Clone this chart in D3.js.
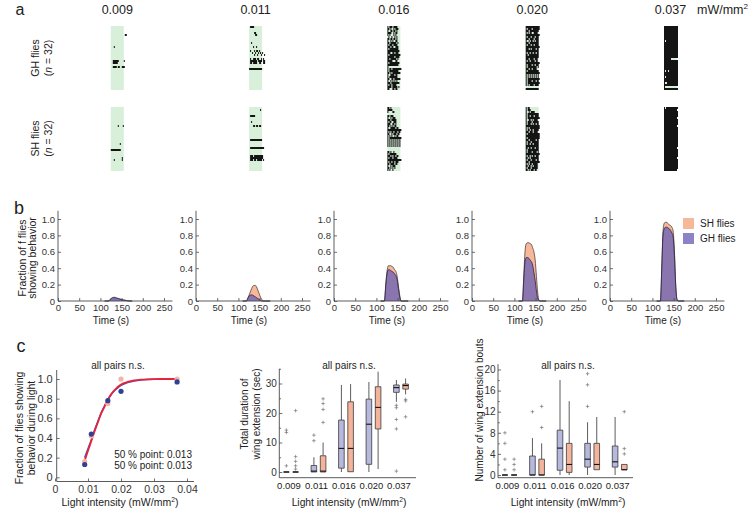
<!DOCTYPE html>
<html><head><meta charset="utf-8">
<script src="https://cdn.jsdelivr.net/npm/d3@7"></script>
<style>
body{margin:0;background:#fff}
svg{display:block;font-family:"Liberation Sans",Arial,Helvetica,sans-serif}
</style>
</head><body>
<svg id="c" width="750" height="508"></svg>
<script>
// ---------------- DATA ----------------
const intensityLabels = ["0.009","0.011","0.016","0.020","0.037"];
const intensityValues = [0.009,0.011,0.016,0.020,0.037];

// Panel a rasters: one string per fly row (32 rows), '#' = wing extension in a time bin
const r009GH = {4:"..............##",10:"...#",17:"..######.....#",18:"..#####",20:"..####.##..###"};
const r009SH = {9:".......#....#",18:".........#",21:"##########",25:"...........#",26:"...#.......#"};
const r011GH = {0:".####",3:".....##",4:"......##",8:"..#",10:"....#..#",12:".#...#.##.#",13:"...#..#..#.#.#",14:".....#..#...#..#",16:".#..###.##..#.#",17:".#######.####.##",18:".##.####..##..##",21:"#############"};
const r011SH = {1:"...........#",4:".#####",7:"..#",9:"....##.##.##",16:".############",20:".##############",24:".###.#########",25:".#############",26:".###.##.#####.#"};
const r016GH = ["#.###.####....","##.#..#.###...","#..##.##.#....","####..#.##....","#.#...#.#.....",".#..#..#.#....","##.##.##.#....","#..#.#..##....","##.######.#...","#.###.####....","###.##..###...","#.#########...","############..","###..##.###...","#.###########.","#######.####..","##.######.#...","#####...##....","#.##########..","###########...","#.............","#.##.#########","#.#########...","##.#.########.","#..####.##....","#.########....","##..##.######.","#..#.#.#.#....","###.########..","#.##.####.....","####.#####.#..","##...##.##...."];
const r016SH = ["##.#..........","#####.........","#....##.......","..............","##.###........","#..#.###......","###.#####.....","#.##..###.....","###..##.#.....","##.#.#.##.....","#..#####.##...","##############","#.#.##.###.##.","##..#.###.##..","#.#.#..#.##...","#.############","#.#.#.#.#.#.#.","#.#.#.#.#.#.#.","#.#.#.#.#.#.#.","#.#.#.#.#.#.#.","..............","..............","##.#..#.......","#.#######.....","###.#.##.##...","#.###.####....","##############","#.##.##.###...","##.####.##....","#..#.###......","##.#.#.#......","#.#..#........"];
const r020GH = ["##############","#.####.#######","###.#########.","#.#.##..####..","##############","#.###.###.###.","###.####.####.","#..#.##.#.###.","###.#########.","#.###.##.####.","##############","###.#.####.##.","#############.","#.##.##.##.##.","##.##########.","#############.","###.####.###..","#.##.####.##..","##############","#.####.##.###.","#.#########.#.","###.##.####...","#.###########.","##############","#.#.#.#.#.#.#.","#.#.#.#.#.#.#.","#.############","#.####.###.##.","#.############","#.#.####.####.","..............","#############."];
const r020SH = ["#.##..........","#.###.........","#..#.####.....","#.###########.","#.##.###.####.","#.############","#..##.#.####..","#.####.######.","#.###.#.##.##.","##############","#.#.##########","#.##.##.#####.","###.###.####..","#.############","##############","#.############","###.######.##.","#.###.#######.","#.##.##.#####.","#############.","##.##.###.###.","#.###########.","#.####.####.#.","##############","#.##.#.##.###.","##.#.########.","#.###.####.##.","###.##########","#.#.##.#####..","##.##.#.####..","#.###.######..","##.#.###.##..."];
const r037GH = ["##############","##############","##############","##############","##############","##############","##############","#.############","##############","##############","##############","##############","##############","##############","##############","##############","#######.......","##############","##############","##############","##############","##############","#.##.#########","##############","##############","#.############","##############","##############","#..###########","##############","#.............","##############"];
const r037SH = ["#.############","#############.","##############","##############","##############","#############.","##############","##############","##############","#############.","##############","##############","##############","##############","##############","##############","##############","##############","##############","##############","#############.","##############","##############","##############","##############","#############.","##############","##############","##############","##############","##############","#############."];
const rasterGH = [r009GH, r011GH, r016GH, r020GH, r037GH];
const rasterSH = [r009SH, r011SH, r016SH, r020SH, r037SH];

// Panel b: fraction of flies showing behaviour over time
const bTime = [110,115,119,122,125,128,131,134,137,140,143,146,149,152,155,158,161,164,170,175];
const bSH = [
  [0,0,0,0.01,0.02,0.03,0.035,0.035,0.03,0.03,0.025,0.02,0.018,0.015,0.01,0.008,0.005,0.003,0,0],
  [0,0,0,0.03,0.07,0.11,0.15,0.18,0.19,0.19,0.17,0.13,0.09,0.05,0.02,0,0,0,0,0],
  [0,0,0,0.2,0.36,0.43,0.43,0.43,0.42,0.41,0.38,0.36,0.3,0.18,0.07,0,0,0,0,0],
  [0,0,0,0.3,0.6,0.7,0.71,0.71,0.7,0.69,0.65,0.6,0.5,0.3,0.1,0.01,0,0,0,0],
  [0,0,0,0.4,0.85,0.95,0.96,0.96,0.94,0.93,0.92,0.9,0.85,0.6,0.2,0.02,0,0,0,0]
];
const bGH = [
  [0,0,0,0.015,0.03,0.04,0.045,0.045,0.04,0.035,0.03,0.025,0.02,0.015,0.012,0.01,0.006,0.003,0,0],
  [0,0,0,0.03,0.06,0.07,0.075,0.07,0.06,0.05,0.04,0.03,0.02,0.01,0,0,0,0,0,0],
  [0,0,0,0.18,0.33,0.38,0.38,0.37,0.36,0.35,0.33,0.31,0.26,0.15,0.05,0,0,0,0,0],
  [0,0,0,0.25,0.48,0.53,0.53,0.52,0.5,0.48,0.44,0.35,0.25,0.12,0.03,0.01,0,0,0,0],
  [0,0,0,0.38,0.8,0.88,0.9,0.9,0.89,0.88,0.86,0.83,0.78,0.55,0.18,0.02,0,0,0,0]
];
const bTicksX = [0,50,100,150,200,250];
const bTicksY = [0,0.2,0.4,0.6,0.8,1.0];

// Panel c left: fraction responding + fitted curves
const fracGH = [0.13,0.44,0.78,0.875,0.97];
const fracSH = [0.16,0.42,0.75,1.0,1.0];
const fitX  = [0.009,0.010,0.011,0.012,0.013,0.014,0.015,0.016,0.017,0.018,0.019,0.020,0.022,0.024,0.026,0.028,0.030,0.033,0.037];
const fitSH = [0.17,0.27,0.37,0.47,0.56,0.65,0.72,0.79,0.845,0.885,0.92,0.945,0.97,0.985,0.993,0.997,0.999,1.0,1.0];
const fitGH = [0.2,0.29,0.38,0.48,0.57,0.655,0.725,0.785,0.84,0.88,0.91,0.935,0.965,0.98,0.99,0.995,0.998,0.999,1.0];

// Panel c middle: total duration (sec) [min, q1, median, q3, max]
const durGH = [[0,0,0,0,0],[0,0,0.3,2.2,5.0],[0,1.3,8.0,17.6,29.5],[0,2.6,16.2,24.7,30.5],[23.8,27.0,28.6,29.5,31.2]];
const durGHOut = [[14.2,13.4,2.1],[12.5,10.6],[],[],[22.6,21.8,17.8,14.6,0.3]];
const durSH = [[0,0,0,0,0],[0,0,0.3,5.5,10],[0,0.1,8.0,23.8,29.8],[1.0,14.6,21.9,28.9,34],[26.3,28.1,29.3,29.8,31.7]];
const durSHOut = [[20.8,5.2,3.6,2.1,1.0],[24.8,23.2,21.2,16.8],[],[],[24.6,24.1,18.7]];

// Panel c right: number of bouts
const boutGH = [[0,0,0,0,0],[0,0,0,3.6,7],[0,0.9,5.1,8.5,18],[0,1.5,3.0,6.0,10],[0,1.5,2.5,5.5,11]];
const boutGHOut = [[8,6,3,1],[12],[],[19.2,17.1,13],[]];
const boutSH = [[0,0,0,0,0],[0,0,0,3,6],[0,0.5,2,6,14],[1,1,2,6,11],[1,1,1,2,2]];
const boutSHOut = [[3,2,1],[13,9],[],[],[12,5,4]];

// ---------------- DRAW ----------------
const svg = d3.select("#c");
const AX = "#4a4a4a";
const SHC = "#f7b89a", GHC = "rgb(110,100,180)";
const GHBOX = "#b7b8de", SHBOX = "#f4b49b";

function text(g, x, y, s, size, anchor="middle", rot=0) {
  const t = g.append("text").attr("font-size", size).attr("text-anchor", anchor).attr("fill","#222");
  if (rot) t.attr("transform", `translate(${x},${y}) rotate(${rot})`);
  else t.attr("x", x).attr("y", y);
  t.text(s);
  return t;
}
function unitLabel(g, x, y, size, anchor="middle", prefix="Light intensity (") {
  const t = g.append("text").attr("x", x).attr("y", y).attr("font-size", size).attr("text-anchor", anchor).attr("fill","#222");
  t.append("tspan").text(prefix + "mW/mm");
  t.append("tspan").attr("font-size", size*0.65).attr("dy", -size*0.38).text("2");
  if (prefix) t.append("tspan").attr("dy", size*0.38).text(")");
  return t;
}

// panel letters
text(svg, 20, 14.5, "a", 16);
text(svg, 19, 214, "b", 18);
text(svg, 21, 352, "c", 18);

// ---- Panel a ----
const colX = d3.scalePoint().domain(intensityLabels).range([117.3, 670.5]);
const binX = d3.scaleLinear().domain([0, 13]).range([-6.5, 6.5]);
const rowGH = d3.scaleLinear().domain([0, 32]).range([26, 90]);
const rowSH = d3.scaleLinear().domain([0, 32]).range([107, 171]);

intensityLabels.forEach(l => text(svg, colX(l), 13.5, l, 12.5));
unitLabel(svg, 697, 13.5, 12.5, "start", "");

function drawRaster(rows, rowScale, col) {
  const cx = colX(col);
  const g = svg.append("g");
  g.append("rect").attr("x", cx + binX(0)).attr("y", rowScale(0))
    .attr("width", binX(13) - binX(0)).attr("height", rowScale(32) - rowScale(0))
    .attr("fill", "#d8f0da");
  Object.entries(rows).forEach(([r, s]) => {
    r = +r;
    let i = 0;
    while (i < s.length) {
      if (s[i] === "#") {
        let j = i;
        while (j < s.length && s[j] === "#") j++;
        g.append("rect").attr("x", cx + binX(i)).attr("y", rowScale(r))
          .attr("width", binX(j) - binX(i)).attr("height", rowScale(r + 1) - rowScale(r))
          .attr("fill", "#141414");
        i = j;
      } else i++;
    }
  });
}
intensityLabels.forEach((l, i) => {
  drawRaster(rasterGH[i], rowGH, l);
  drawRaster(rasterSH[i], rowSH, l);
});
function rowLabel(cy, name) {
  text(svg, 38.5, cy, name, 10.5, "middle", -90);
  const t = svg.append("text").attr("font-size", 10.5).attr("text-anchor", "middle").attr("fill","#222")
    .attr("transform", `translate(52,${cy}) rotate(-90)`);
  t.append("tspan").text("(");
  t.append("tspan").attr("font-style", "italic").text("n");
  t.append("tspan").text(" = 32)");
}
rowLabel(58, "GH flies");
rowLabel(138.5, "SH flies");

// ---- Panel b ----
const subOrigin = d3.scaleLinear().domain([0, 4]).range([58, 610]);
const by = d3.scaleLinear().domain([0, 1]).range([301, 219]);
function styleAxis(g) {
  g.selectAll("path.domain").remove();
  g.selectAll("line").attr("stroke", AX).attr("stroke-width", 0.8);
  g.selectAll("text").attr("fill", "#333");
}
intensityLabels.forEach((l, i) => {
  const x0 = subOrigin(i);
  const bx = d3.scaleLinear().domain([0, 250]).range([x0, x0 + 106]);
  const g = svg.append("g");
  const area = d3.area().x((d, k) => bx(bTime[k])).y0(by(0)).y1(d => by(d)).curve(d3.curveMonotoneX);
  const line = d3.line().x((d, k) => bx(bTime[k])).y(d => by(d)).curve(d3.curveMonotoneX);
  g.append("path").attr("d", area(bSH[i])).attr("fill", SHC);
  g.append("path").attr("d", line(bSH[i])).attr("fill", "none").attr("stroke", "#3a2a2a").attr("stroke-width", 0.7);
  g.append("path").attr("d", area(bGH[i])).attr("fill", GHC).attr("fill-opacity", 0.8);
  g.append("path").attr("d", line(bGH[i])).attr("fill", "none").attr("stroke", "#2a2040").attr("stroke-width", 0.8);
  g.append("line").attr("x1", bx(0)).attr("x2", bx(270)).attr("y1", by(0)).attr("y2", by(0)).attr("stroke", AX).attr("stroke-width", 0.9);
  g.append("line").attr("x1", bx(0)).attr("x2", bx(0)).attr("y1", by(0)).attr("y2", by(1.1)).attr("stroke", AX).attr("stroke-width", 0.9);
  const xa = g.append("g").attr("transform", `translate(0,${by(0)})`)
    .call(d3.axisBottom(bx).tickValues(bTicksX).tickSizeInner(-3).tickSizeOuter(0).tickPadding(3));
  xa.selectAll("text").attr("font-size", 9.5).attr("font-family", null);
  styleAxis(xa);
  const ya = g.append("g").attr("transform", `translate(${bx(0)},0)`)
    .call(d3.axisLeft(by).tickValues(bTicksY).tickFormat(d => d === 0 ? "0" : d3.format(".1f")(d)).tickSizeInner(-3).tickSizeOuter(0).tickPadding(3));
  ya.selectAll("text").attr("font-size", 9.5).attr("font-family", null);
  styleAxis(ya);
  text(g, bx(125), 324, "Time (s)", 10);
});
text(svg, 25.5, 258, "Fraction of f flies", 10.5, "middle", -90);
text(svg, 36, 258, "showing behavior", 10.5, "middle", -90);
// legend
svg.append("rect").attr("x", 683).attr("y", 218).attr("width", 11).attr("height", 11).attr("fill", SHC);
svg.append("rect").attr("x", 683).attr("y", 233).attr("width", 11).attr("height", 11).attr("fill", GHC).attr("fill-opacity", 0.8);
text(svg, 700, 227, "SH flies", 10, "start");
text(svg, 700, 242, "GH flies", 10, "start");

// ---- Panel c left ----
{
  const g = svg.append("g");
  const x = d3.scaleLinear().domain([0, 0.04]).range([55, 187]);
  const y = d3.scaleLinear().domain([0, 1]).range([477.3, 379]);
  const axY = 481.5, axX = 56.7;
  g.append("line").attr("x1", axX).attr("x2", 194).attr("y1", axY).attr("y2", axY).attr("stroke", AX).attr("stroke-width", 0.9);
  g.append("line").attr("x1", axX).attr("x2", axX).attr("y1", axY).attr("y2", 370).attr("stroke", AX).attr("stroke-width", 0.9);
  const xa = g.append("g").attr("transform", `translate(0,${axY})`)
    .call(d3.axisBottom(x).tickValues([0,0.01,0.02,0.03,0.04]).tickFormat(d => d === 0 ? "0" : d3.format(".2f")(d)).tickSizeInner(-3).tickSizeOuter(0).tickPadding(4));
  xa.selectAll("text").attr("font-size", 10.5).attr("font-family", null);
  styleAxis(xa);
  const ya = g.append("g").attr("transform", `translate(${axX},0)`)
    .call(d3.axisLeft(y).tickValues([0,0.2,0.4,0.6,0.8,1.0]).tickFormat(d => d === 0 ? "0" : d3.format(".1f")(d)).tickSizeInner(-3).tickSizeOuter(0).tickPadding(4));
  ya.selectAll("text").attr("font-size", 11).attr("font-family", null);
  styleAxis(ya);
  const ln = arr => d3.line().x((d, k) => x(fitX[k])).y(d => y(d)).curve(d3.curveMonotoneX)(arr);
  g.append("path").attr("d", ln(fitGH)).attr("fill", "none").attr("stroke", "#3a55c8").attr("stroke-width", 1.6);
  g.append("path").attr("d", ln(fitSH)).attr("fill", "none").attr("stroke", "#e8243a").attr("stroke-width", 1.8);
  intensityValues.forEach((v, k) => {
    g.append("circle").attr("cx", x(v)).attr("cy", y(fracSH[k])).attr("r", 2.6).attr("fill", "#f6b2a2");
  });
  intensityValues.forEach((v, k) => {
    g.append("circle").attr("cx", x(v)).attr("cy", y(fracGH[k])).attr("r", 2.6).attr("fill", "#2e4197");
  });
  text(g, 192, 457.5, "50 % point: 0.013", 10, "end");
  text(g, 192, 468.5, "50 % point: 0.013", 10, "end");
  text(g, 118, 368.5, "all pairs n.s.", 10);
  unitLabel(g, 120, 505.5, 10.5);
  text(g, 22.5, 428, "Fraction of flies showing", 10.5, "middle", -90);
  text(g, 34.5, 428, "behavior during light", 10.5, "middle", -90);
}

// ---- Box plots ----
function boxPanel(opts) {
  const g = svg.append("g");
  const x = d3.scalePoint().domain(intensityLabels).range(opts.xr);
  const y = d3.scaleLinear().domain([0, opts.top]).range([opts.y0, opts.yTop]);
  const axY = 477.7;
  g.append("line").attr("x1", opts.axX).attr("x2", opts.xEnd).attr("y1", axY).attr("y2", axY).attr("stroke", AX).attr("stroke-width", 0.9);
  g.append("line").attr("x1", opts.axX).attr("x2", opts.axX).attr("y1", axY).attr("y2", y(opts.axTop)).attr("stroke", AX).attr("stroke-width", 0.9);
  const ya = g.append("g").attr("transform", `translate(${opts.axX},0)`)
    .call(d3.axisLeft(y).tickValues(opts.major).tickSizeInner(-3).tickSizeOuter(0).tickPadding(2.5));
  ya.selectAll("text").attr("font-size", 10).attr("font-family", null);
  styleAxis(ya);
  const ym = g.append("g").attr("transform", `translate(${opts.axX},0)`)
    .call(d3.axisLeft(y).tickValues(opts.minor).tickFormat("").tickSizeInner(-1.8).tickSizeOuter(0));
  styleAxis(ym);
  intensityLabels.forEach(l => text(g, x(l) - 2, 489, l, 9.5));
  function series(stats, outs, off, fill) {
    stats.forEach((s, k) => {
      const cx = x(intensityLabels[k]) + off, w = 5.6;
      const [mn, q1, md, q3, mx] = s;
      if (mx > q3) g.append("line").attr("x1", cx).attr("x2", cx).attr("y1", y(q3)).attr("y2", y(mx)).attr("stroke", "#333").attr("stroke-width", 0.8);
      if (mn < q1) g.append("line").attr("x1", cx).attr("x2", cx).attr("y1", y(q1)).attr("y2", y(mn)).attr("stroke", "#333").attr("stroke-width", 0.8);
      g.append("path").attr("d", `M${cx - w/2},${y(q3)}H${cx + w/2}V${y(q1)}H${cx - w/2}Z`)
        .attr("fill", fill).attr("stroke", "#3a3a3a").attr("stroke-width", 0.8);
      g.append("line").attr("x1", cx - w/2).attr("x2", cx + w/2).attr("y1", y(md)).attr("y2", y(md)).attr("stroke", "#111").attr("stroke-width", 1.1);
      outs[k].forEach(o => {
        const py = y(o);
        g.append("path").attr("d", `M${cx - 1.8},${py}H${cx + 1.8}M${cx},${py - 1.8}V${py + 1.8}`).attr("stroke", "#777").attr("stroke-width", 0.7);
      });
    });
  }
  series(opts.gh, opts.ghOut, -4.6, GHBOX);
  series(opts.sh, opts.shOut, 4.6, SHBOX);
  text(g, opts.titleX, 368.5, "all pairs n.s.", 10);
  unitLabel(g, opts.titleX, 505.5, 10.3);
  return g;
}
const gm = boxPanel({xr: [291, 401], axX: 279.3, xEnd: 416, y0: 472, yTop: 383.5, top: 30, axTop: 35,
  major: [0,10,20,30], minor: [5,15,25,35], gh: durGH, ghOut: durGHOut, sh: durSH, shOut: durSHOut, titleX: 349});
text(gm, 247.5, 414, "Total duration of", 10, "middle", -90);
text(gm, 259.5, 414, "wing extension (sec)", 10, "middle", -90);
const gr = boxPanel({xr: [509.5, 619.7], axX: 498, xEnd: 633, y0: 475, yTop: 369.5, top: 20, axTop: 21,
  major: [0,4,8,12,16,20], minor: [2,6,10,14,18], gh: boutGH, ghOut: boutGHOut, sh: boutSH, shOut: boutSHOut, titleX: 568});
text(gr, 483, 410, "Number of wing extension bouts", 10, "middle", -90);
</script>
</body></html>
